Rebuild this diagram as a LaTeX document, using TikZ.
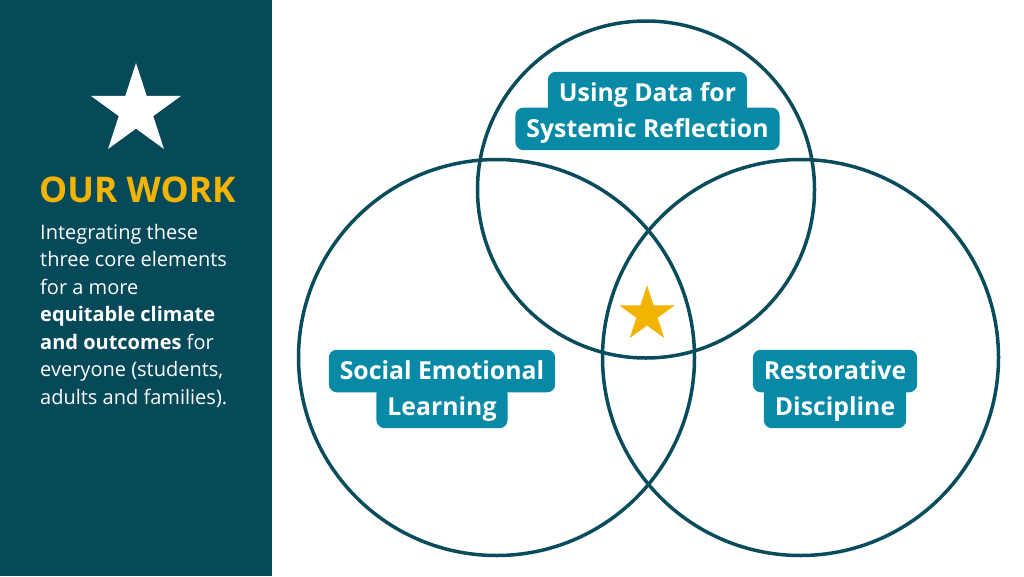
\documentclass[tikz,border=0pt]{standalone}
\usepackage{fontspec}
\setmainfont{Open Sans}
\usetikzlibrary{positioning,shapes.geometric}
\definecolor{panelteal}{RGB}{6,74,90}
\definecolor{ringteal}{RGB}{9,76,92}
\definecolor{tagblue}{RGB}{8,137,165}
\definecolor{workgold}{RGB}{242,180,0}

\begin{document}
\begin{tikzpicture}[x=1pt,y=1pt,
                    ring/.style={draw=ringteal,line width=3.5pt},
                    tag/.style={fill=tagblue,rounded corners=8pt,text=white,
                      font=\fontsize{24.8}{28}\selectfont\bfseries,
                      inner xsep=11pt,inner ysep=12.5pt,text height=17.5pt,text depth=0pt},
                    starmark/.style={star,star points=5,star point ratio=2.618,inner sep=0pt}]
  \useasboundingbox (0,0) rectangle (1024,-576);
  % left panel
  \fill[panelteal] (0,0) rectangle (272,-576);
  \node[starmark,fill=white,minimum size=95pt] (bigstar) at (136,-110.5) {};
  \node[anchor=base west,inner sep=0pt,text=workgold,
        font=\fontsize{35.4}{40}\selectfont\bfseries] (title) at (39,-202) {OUR WORK};
  \node[anchor=north west,inner sep=0pt,align=left,text=white,
        font=\fontsize{20}{27.5}\selectfont] (blurb) at (40,-224)
    {Integrating these\\three core elements\\for a more\\
     \textbf{equitable climate}\\\textbf{and outcomes} for\\
     everyone (students,\\adults and families).};
  % the three rings
  \draw[ring] (646,-189.5) circle [radius=168.5pt];
  \draw[ring] (496.5,-357.5) circle [radius=198pt];
  \draw[ring] (800.5,-357.5) circle [radius=198pt];
  % labels
  \node[tag] (data1) at (647.5,-93) {Using Data for};
  \node[tag,below=-7pt of data1] (data2) {Systemic Reflection};
  \node[tag] (sel1) at (442,-371) {Social Emotional};
  \node[tag,below=-7pt of sel1] (sel2) {Learning};
  \node[tag] (rd1) at (835,-371) {Restorative};
  \node[tag,below=-7pt of rd1] (rd2) {Discipline};
  \node[starmark,fill=workgold,minimum size=58.6pt] (midstar) at (647,-314.3) {};
\end{tikzpicture}
\end{document}
